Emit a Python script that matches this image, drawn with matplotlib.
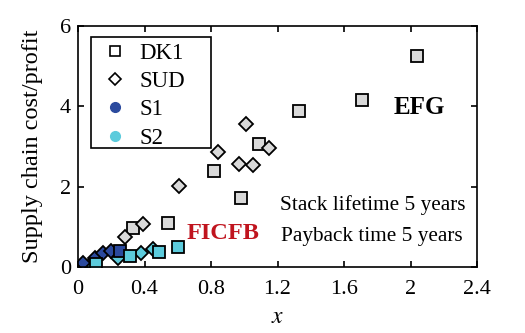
import matplotlib
matplotlib.use('Agg')
import matplotlib.pyplot as plt
from matplotlib.lines import Line2D
from matplotlib.patches import Rectangle

plt.rcParams['font.family'] = ['Liberation Serif', 'DejaVu Serif']
plt.rcParams['mathtext.fontset'] = 'stix'

# gray points (all cases)
dk1_x = [0.33, 0.54, 0.82, 0.98, 1.09, 1.33, 1.71, 2.04]
dk1_y = [0.97, 1.10, 2.40, 1.72, 3.06, 3.89, 4.17, 5.25]
sud_x = [0.28, 0.39, 0.61, 0.84, 0.97, 1.01, 1.05, 1.15]
sud_y = [0.75, 1.07, 2.01, 2.86, 2.56, 3.55, 2.53, 2.96]

# S1 (dark blue)
s1_sq_x = [0.25]
s1_sq_y = [0.41]
s1_di_x = [0.03, 0.10, 0.15, 0.20]
s1_di_y = [0.11, 0.23, 0.34, 0.41]

# S2 (cyan)
s2_sq_x = [0.11, 0.31, 0.49, 0.60]
s2_sq_y = [0.08, 0.27, 0.37, 0.49]
s2_di_x = [0.08, 0.24, 0.38, 0.45]
s2_di_y = [0.08, 0.22, 0.36, 0.44]

xticks = [0, 0.4, 0.8, 1.2, 1.6, 2.0, 2.4]
xticklabels = ['0', '0.4', '0.8', '1.2', '1.6', '2', '2.4']
yticks = [0, 2, 4, 6]

gray = '#d9d9d9'
c_s1 = '#2b4a9e'
c_s2 = '#5ccbdc'

fig = plt.figure(figsize=(5.25, 3.33), dpi=100)
ax = fig.add_axes([0.1486, 0.198, 0.76, 0.724])

ms = 8
ew = 1.3
ax.plot(dk1_x, dk1_y, 's', ms=ms, mfc=gray, mec='k', mew=ew, ls='none')
ax.plot(sud_x, sud_y, 'D', ms=ms*0.85, mfc=gray, mec='k', mew=ew, ls='none')
ax.plot(s2_di_x, s2_di_y, 'D', ms=ms*0.85, mfc=c_s2, mec='k', mew=ew, ls='none')
ax.plot(s1_di_x, s1_di_y, 'D', ms=ms*0.85, mfc=c_s1, mec='k', mew=ew, ls='none')
ax.plot(s1_sq_x, s1_sq_y, 's', ms=ms, mfc=c_s1, mec='k', mew=ew, ls='none')
ax.plot(s2_sq_x, s2_sq_y, 's', ms=ms, mfc=c_s2, mec='k', mew=ew, ls='none')

ax.set_xlim(0, 2.4)
ax.set_ylim(0, 6)
ax.set_xticks(xticks)
ax.set_xticklabels(xticklabels)
ax.set_yticks(yticks)
ax.tick_params(direction='in', top=True, right=True, labelsize=16, length=4, width=1.2)
ax.tick_params(axis='x', pad=9)
ax.tick_params(axis='y', pad=5)
for s in ax.spines.values():
    s.set_linewidth(1.2)

ax.set_xlabel('$x$', fontsize=17, labelpad=6)
ax.set_ylabel('Supply chain cost/profit', fontsize=17.5, labelpad=12)

# legend box (MATLAB style, wider than its text)
ax.add_patch(Rectangle((0.033, 0.494), 0.30, 0.46, transform=ax.transAxes,
                       fill=False, ec='k', lw=1.2, zorder=5))
handles = [
    Line2D([], [], marker='s', ls='none', ms=7, mfc='white', mec='k', mew=1.2),
    Line2D([], [], marker='D', ls='none', ms=6.5, mfc='white', mec='k', mew=1.2),
    Line2D([], [], marker='o', ls='none', ms=7, mfc=c_s1, mec=c_s1),
    Line2D([], [], marker='o', ls='none', ms=7, mfc=c_s2, mec=c_s2),
]
leg = ax.legend(handles, ['DK1', 'SUD', 'S1', 'S2'], loc='upper left',
                bbox_to_anchor=(0.038, 0.95), fontsize=16.5, frameon=False,
                handletextpad=0.3, labelspacing=0.32, borderpad=0.2,
                borderaxespad=0, handlelength=1.5)

ax.text(2.05, 3.97, 'EFG', fontsize=18, fontweight='bold', ha='center', va='center')
ax.text(0.87, 0.83, 'FICFB', fontsize=17.5, fontweight='bold', color='#c0141e', ha='center', va='center')
ax.text(1.77, 1.54, 'Stack lifetime 5 years', fontsize=15.3, ha='center', va='center')
ax.text(1.77, 0.75, 'Payback time 5 years', fontsize=15.3, ha='center', va='center')

fig.savefig('out.png', dpi=100)
